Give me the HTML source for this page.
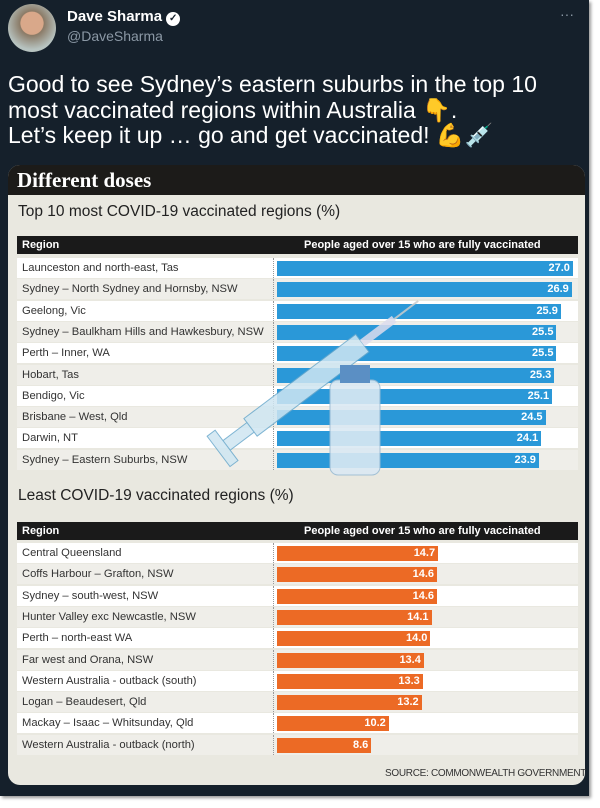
<!DOCTYPE html>
<html><head><meta charset="utf-8"><style>
*{margin:0;padding:0;box-sizing:border-box}
body{width:600px;height:808px;background:#fff;position:relative;overflow:hidden;font-family:"Liberation Sans",sans-serif}
#card{position:absolute;left:0;top:0;width:589px;height:796px;background:#15202b;box-shadow:2px 2px 3px #999}
.abs{position:absolute}
.row{position:absolute;left:17px;width:561px;height:20px;font-size:11.2px;color:#333;line-height:20px;padding-left:5px;font-family:"Liberation Sans Narrow","Liberation Sans",sans-serif}
.bar{position:absolute;left:277px;top:3px;height:15px;color:#fff;font-weight:bold;text-align:right;padding-right:3px;line-height:15px;font-size:11px}
.hdr{position:absolute;left:17px;width:561px;height:18px;background:#1a1a1a;color:#fff;font-weight:bold;font-size:11px;line-height:18px;font-family:"Liberation Sans Narrow","Liberation Sans",sans-serif}
.title{position:absolute;left:18px;font-size:15.5px;color:#222;font-family:"Liberation Sans Narrow","Liberation Sans",sans-serif}
</style></head><body>
<div id="card">
<div class="abs" style="left:8px;top:4px;width:48px;height:48px;border-radius:50%;background:radial-gradient(circle at 50% 40%,#d9a88a 0 30%,#8a7a66 32%,#b7c3c0 70%)"></div>
<div class="abs" style="left:67px;top:8px;color:#fff;font-weight:bold;font-size:15px">Dave Sharma <span style="display:inline-block;width:14px;height:14px;border-radius:50%;background:#fff;color:#15202b;font-size:10px;text-align:center;line-height:14px">✓</span></div>
<div class="abs" style="left:67px;top:28px;color:#8b98a5;font-size:14px">@DaveSharma</div>
<div class="abs" style="left:560px;top:6px;color:#8b98a5;font-size:14px">···</div>
<div class="abs" style="left:8px;top:72px;color:#fff;font-size:23px;line-height:25.5px;width:585px;white-space:nowrap">Good to see Sydney’s eastern suburbs in the top 10<br>most vaccinated regions within Australia <span style="color:#e8c49a">👇</span>.<br>Let’s keep it up … go and get vaccinated! <span style="color:#f0d0b0">💪💉</span></div>
<div class="abs" style="left:8px;top:165px;width:577px;height:620px;border-radius:12px;background:#e9e8e0;overflow:hidden">
 <div class="abs" style="left:0;top:0;width:577px;height:30px;background:#1c1b19;color:#fff;font-family:'Liberation Serif',serif;font-weight:bold;font-size:21px;line-height:30px;padding-left:9px">Different doses</div>
</div>
<div class="title" style="top:203px">Top 10 most COVID-19 vaccinated regions (%)</div>
<div class="hdr" style="top:236px"><span style="padding-left:5px">Region</span><span class="abs" style="left:287px">People aged over 15 who are fully vaccinated</span></div>
<div class="title" style="top:487px">Least COVID-19 vaccinated regions (%)</div>
<div class="hdr" style="top:522px"><span style="padding-left:5px">Region</span><span class="abs" style="left:287px">People aged over 15 who are fully vaccinated</span></div>
<div id="rows"></div>
<div class="abs" style="left:385px;top:768px;font-size:10px;color:#333;white-space:nowrap;letter-spacing:-0.3px;font-family:'Liberation Sans Narrow',sans-serif">SOURCE: COMMONWEALTH GOVERNMENT</div>
<svg class="abs" style="left:195px;top:280px" width="240" height="200">
 <g transform="rotate(-37 120 100)" opacity="0.85">
  <rect x="40" y="88" width="140" height="22" fill="#cfe6f2" stroke="#6aa9cc"/>
  <rect x="180" y="95" width="40" height="8" fill="#dde"/>
  <line x1="220" y1="99" x2="250" y2="99" stroke="#ccc" stroke-width="2"/>
  <rect x="10" y="93" width="30" height="12" fill="#cfe6f2" stroke="#6aa9cc"/>
  <rect x="0" y="80" width="10" height="38" fill="#cfe6f2" stroke="#6aa9cc"/>
 </g>
 <rect x="135" y="100" width="50" height="95" rx="8" fill="#dbe9f3" stroke="#9bbcd4" opacity="0.9"/>
 <rect x="145" y="85" width="30" height="18" fill="#5b8fc4"/>
</svg>
</div>
<script>
var topRows=[["Launceston and north-east, Tas",27.0],["Sydney – North Sydney and Hornsby, NSW",26.9],["Geelong, Vic",25.9],["Sydney – Baulkham Hills and Hawkesbury, NSW",25.5],["Perth – Inner, WA",25.5],["Hobart, Tas",25.3],["Bendigo, Vic",25.1],["Brisbane – West, Qld",24.5],["Darwin, NT",24.1],["Sydney – Eastern Suburbs, NSW",23.9]];
var lowRows=[["Central Queensland",14.7],["Coffs Harbour – Grafton, NSW",14.6],["Sydney – south-west, NSW",14.6],["Hunter Valley exc Newcastle, NSW",14.1],["Perth – north-east WA",14.0],["Far west and Orana, NSW",13.4],["Western Australia - outback (south)",13.3],["Logan – Beaudesert, Qld",13.2],["Mackay – Isaac – Whitsunday, Qld",10.2],["Western Australia - outback (north)",8.6]];
var h="";
function add(a,y0,c){a.forEach(function(r,i){var y=y0+i*21.3;h+='<div class="row" style="top:'+y+'px;background:'+(i%2?'#efeee9':'#fff')+'">'+r[0]+'<div class="abs" style="left:256px;top:0;height:20px;border-left:1px dotted #999"></div><div class="bar" style="left:260px;width:'+(r[1]*10.96)+'px;background:'+c+'">'+r[1].toFixed(1)+'</div></div>';});}
add(topRows,258,"#2a98d8");add(lowRows,543,"#ec6a25");
document.getElementById("rows").outerHTML=h;
</script>
</body></html>
